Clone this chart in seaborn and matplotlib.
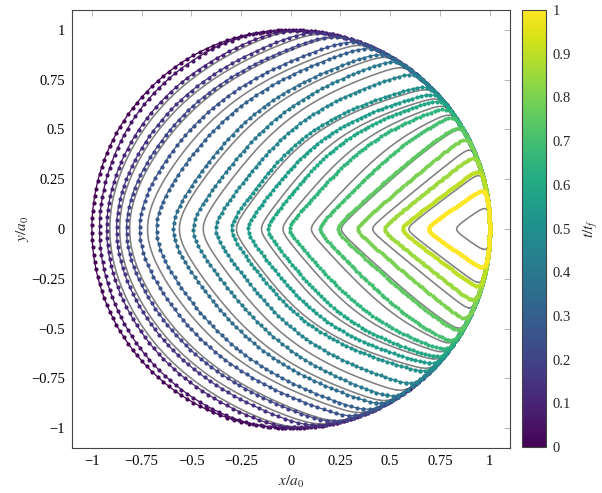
import numpy as np
import pandas as pd
import matplotlib
matplotlib.use("Agg")
import matplotlib.pyplot as plt
import seaborn as sns
import contourpy
from matplotlib.cm import ScalarMappable
from matplotlib.colors import Normalize

# measured contact lines (coloured): time, apex x on y=0, tip rounding, tip slope, arm bend
t_meas = [0.0, 0.05, 0.1, 0.15, 0.2, 0.25, 0.3, 0.35, 0.4, 0.45, 0.5,
          0.55, 0.6, 0.65, 0.7, 0.75, 0.8, 0.85, 0.9, 1.0]
x0_meas = [-1.0, -0.965, -0.926, -0.876, -0.826, -0.76, -0.675, -0.59, -0.49, -0.377,
           -0.298, -0.215, -0.114, -0.005, 0.146, 0.236, 0.337, 0.472, 0.563, 0.693]
tip_meas = [1.0, 0.9, 0.75, 0.58, 0.44, 0.32, 0.22, 0.15, 0.1, 0.07,
            0.055, 0.045, 0.038, 0.032, 0.027, 0.025, 0.022, 0.02, 0.02, 0.02]
slope_meas = [1.0, 1.0, 1.0, 1.05, 1.1, 1.15, 1.2, 1.25, 1.25, 1.27,
              1.28, 1.25, 1.2, 1.1, 1.0, 0.9, 0.85, 0.8, 0.75, 0.68]
bend_meas = [0.0, 0.28, 0.35, 0.42, 0.5, 0.6, 0.7, 0.8, 0.9, 1.4,
             2.3, 2.8, 3.0, 3.0, 2.0, 1.5, 1.0, 1.0, 1.0, 1.0]

# model contact lines (grey)
x0_model = [-0.91, -0.86, -0.81, -0.72, -0.56, -0.44, -0.273, -0.147, -0.039,
            0.104, 0.255, 0.412, 0.594, 0.834]
tip_model = [0.7, 0.55, 0.42, 0.26, 0.13, 0.085, 0.05, 0.04, 0.035, 0.03, 0.025, 0.02, 0.02, 0.02]
slope_model = [1.0, 1.05, 1.1, 1.18, 1.25, 1.26, 1.28, 1.25, 1.15, 1.05, 0.9, 0.82, 0.75, 0.68]
bend_model = [0.35, 0.45, 0.5, 0.65, 0.85, 1.1, 2.5, 3.0, 3.0, 2.5, 1.5, 1.0, 1.0, 1.0]

n_pts = 170
gx = np.linspace(-1.06, 1.06, 901)
X, Y = np.meshgrid(gx, gx)


def contact_line(x0, e, m, c, n=n_pts, k=0.02):
    if x0 <= -0.999:
        th = np.linspace(0, 2 * np.pi, n)
        return np.cos(th), np.sin(th)
    ay = np.abs(Y)
    s = (np.sqrt(ay**2 + e**2) - e) / m + c * ay**5
    ds = ay / np.sqrt(ay**2 + e**2) / m + 5 * c * ay**4
    f_arm = (x0 + s - X) / np.sqrt(1 + ds**2)
    f_rim = np.hypot(X, Y) - 1
    f = k * np.logaddexp(f_arm / k, f_rim / k)
    ln = max(contourpy.contour_generator(gx, gx, f).lines(0.0), key=len)
    x, y = ln[:, 0], ln[:, 1]
    arc = np.concatenate([[0], np.cumsum(np.hypot(np.diff(x), np.diff(y)))])
    si = np.linspace(0, arc[-1], n)
    return np.interp(si, arc, x), np.interp(si, arc, y)


rows = []
for i, (t, x0, e, m, c) in enumerate(zip(t_meas, x0_meas, tip_meas, slope_meas, bend_meas)):
    x, y = contact_line(x0, e, m, c)
    rows.append(pd.DataFrame({"curve": i, "t": t, "x": x, "y": y}))
df_meas = pd.concat(rows)

rows = []
for i, (x0, e, m, c) in enumerate(zip(x0_model, tip_model, slope_model, bend_model)):
    x, y = contact_line(x0, e, m, c, n=500)
    rows.append(pd.DataFrame({"curve": i, "x": x, "y": y}))
df_model = pd.concat(rows)

sns.set_theme(style="white")
plt.rcParams["font.family"] = ["Liberation Serif", "DejaVu Serif"]
plt.rcParams["mathtext.fontset"] = "stix"

fig = plt.figure(figsize=(6.02, 4.93), dpi=100)
ax = fig.add_axes([72 / 602, 45 / 493, 437.5 / 602, 438 / 493])

sns.lineplot(data=df_model, x="x", y="y", units="curve", estimator=None, sort=False,
             color="#808080", lw=1.15, legend=False, ax=ax)
sns.lineplot(data=df_meas, x="x", y="y", hue="t", units="curve", estimator=None, sort=False,
             palette="viridis", hue_norm=(0, 1), lw=0.9, marker="o", markersize=3,
             markeredgewidth=0, legend=False, ax=ax)

ax.set_xlim(-1.1, 1.1)
ax.set_ylim(-1.1, 1.1)
ticks = [-1, -0.75, -0.5, -0.25, 0, 0.25, 0.5, 0.75, 1]
tick_labels = ["\u22121", "\u22120.75", "\u22120.5", "\u22120.25", "0", "0.25", "0.5", "0.75", "1"]
ax.set_xticks(ticks)
ax.set_xticklabels(tick_labels)
ax.set_yticks(ticks)
ax.set_yticklabels(tick_labels)
ax.tick_params(direction="in", top=True, right=True, length=4, width=0.6,
               color="#aaaaaa", labelsize=10.5, labelcolor="black", pad=5)
for sp_ in ax.spines.values():
    sp_.set_color("#444444")
    sp_.set_linewidth(0.8)
ax.set_xlabel("$x/a_0$", fontsize=11, labelpad=4)
ax.set_ylabel("$y/a_0$", fontsize=11, labelpad=0)

cax = fig.add_axes([521.7 / 602, 46 / 493, 24 / 602, 437 / 493])
cb = fig.colorbar(ScalarMappable(norm=Normalize(0, 1), cmap="viridis"), cax=cax)
cb_ticks = [0, 0.1, 0.2, 0.3, 0.4, 0.5, 0.6, 0.7, 0.8, 0.9, 1]
cb.set_ticks(cb_ticks)
cb.set_ticklabels(["0", "0.1", "0.2", "0.3", "0.4", "0.5", "0.6", "0.7", "0.8", "0.9", "1"])
cb.outline.set_edgecolor("#444444")
cb.outline.set_linewidth(0.8)
cax.tick_params(direction="in", length=4, width=0.6, color="#888888", labelsize=10.5, pad=5)
cb.set_label("$t/t_f$", fontsize=11, labelpad=8)

fig.savefig("out.png", dpi=100)
